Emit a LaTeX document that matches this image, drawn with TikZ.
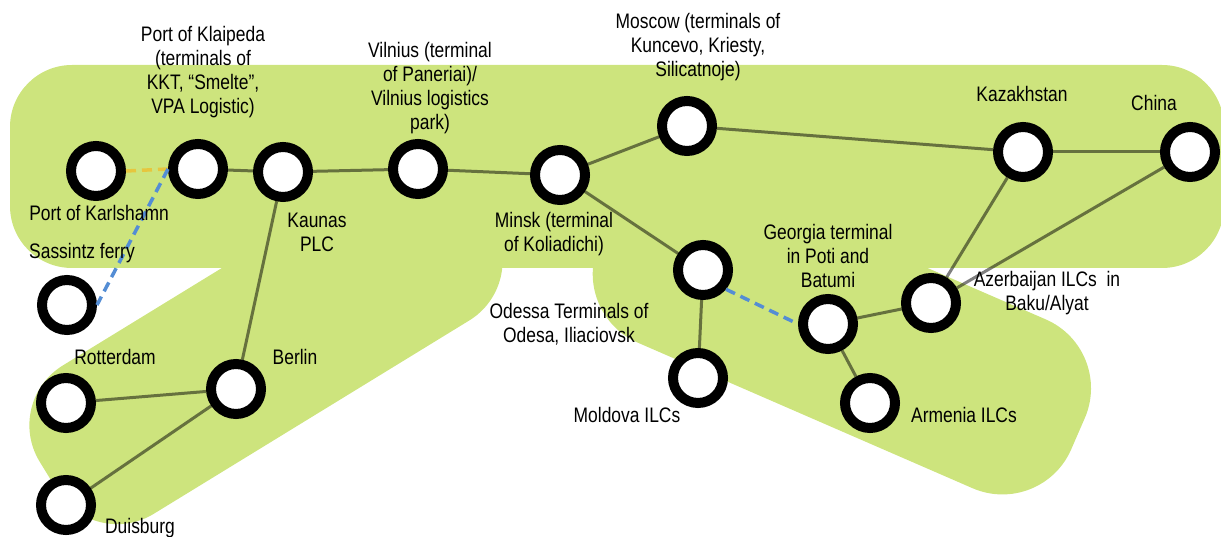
\documentclass[tikz,border=0pt]{standalone}
\usepackage{fontspec}
\setmainfont{Liberation Sans}[FakeStretch=0.83]
\definecolor{bandgreen}{RGB}{205,228,125}
\definecolor{ferryblue}{RGB}{84,141,212}
\definecolor{ferryyellow}{RGB}{230,198,62}
\begin{document}
\begin{tikzpicture}[x=1pt,y=-1pt,
    stop/.style={circle,draw,line width=10pt,fill=white,minimum size=50pt,inner sep=0pt},
    lbl/.style={align=center,inner sep=0pt,font=\fontsize{21}{24}\selectfont},
    link/.style={line width=3pt,draw opacity=0.5},
    ferry/.style={line width=3.5pt,dash pattern=on 10pt off 6pt,draw=#1},
    ferry/.default=ferryblue]

	\useasboundingbox (0,0) rectangle (1221,537);
	\fill[bandgreen,rounded corners=62pt] (10,65) rectangle (1224,268);
	\begin{scope}[shift={(266,343)},rotate=31.5]
	  \fill[bandgreen,rounded corners=70pt] (-255,-87) -- (255,-87)
	  -- (255,87) -- (-255,87) -- cycle;
	\end{scope}
	\begin{scope}[shift={(890,352)},rotate=-23.5]
	  \fill[bandgreen,rounded corners=75pt] (-310,-92) -- (205,-92)
	  -- (205,92) -- (-310,92) -- cycle;
	\end{scope}

	\node[stop] (karl) at (96,171) {}; \node[stop] (klai) at (198,169) {};
	\node[stop] (kaun) at (283,172) {}; \node[stop] (viln) at (418,169) {};
	\node[stop] (mins) at (560,175) {}; \node[stop] (mosc) at (687,126) {};
	\node[stop] (kaza) at (1023,152) {}; \node[stop] (chin) at (1190,152) {};
	\node[stop] (odes) at (703,270) {}; \node[stop] (mold) at (698,378) {};
	\node[stop] (geor) at (828,324) {}; \node[stop] (azer) at (931,303) {};
	\node[stop] (arme) at (870,403) {}; \node[stop] (sass) at (67,305) {};
	\node[stop] (rott) at (66,403) {}; \node[stop] (berl) at (236,389) {};
	\node[stop] (duis) at (66,505) {};

	\draw[link] (klai) -- (kaun); \draw[link] (kaun) -- (viln);
	\draw[link] (viln) -- (mins); \draw[link] (mins) -- (mosc);
	\draw[link] (mosc) -- (kaza); \draw[link] (kaza) -- (chin);
	\draw[link] (mins) -- (odes); \draw[link] (odes) -- (mold);
	\draw[link] (geor) -- (azer); \draw[link] (geor) -- (arme);
	\draw[link] (azer) -- (kaza); \draw[link] (azer) -- (chin);
	\draw[link] (kaun) -- (berl); \draw[link] (berl) -- (rott);
	\draw[link] (berl) -- (duis);
	\draw[ferry=ferryyellow] (karl.east) -- (klai.west);
	\draw[ferry] (klai.west) -- (sass.east);
	\draw[ferry] (odes.-40) -- (geor.west);

	\node[lbl] (lklai) at (203,72) {Port of Klaipeda\\(terminals of\\KKT, “Smelte”,\\VPA Logistic)};
	\node[lbl] (lviln) at (430,88) {Vilnius (terminal\\of Paneriai)/\\Vilnius logistics\\park)};
	\node[lbl] (lkarl) at (99,213) {Port of Karlshamn};
	\node[lbl] (lsass) at (82,253) {Sassintz ferry};
	\node[lbl] (lkaun) at (317,232) {Kaunas\\PLC};
	\node[lbl] (lmins) at (554,234) {Minsk (terminal\\of Koliadichi)};
	\node[lbl] (lmosc) at (698,47) {Moscow (terminals of\\Kuncevo, Kriesty,\\Silicatnoje)};
	\node[lbl] (lkaza) at (1022,94) {Kazakhstan};
	\node[lbl] (lchin) at (1154,103) {China};
	\node[lbl] (lgeor) at (828,256) {Georgia terminal\\in Poti and\\Batumi};
	\node[lbl] (lazer) at (1047,293) {Azerbaijan ILCs\ \ in\\Baku/Alyat};
	\node[lbl] (lodes) at (569,324) {Odessa Terminals of\\Odesa, Iliaciovsk};
	\node[lbl] (lmold) at (627,415) {Moldova ILCs};
	\node[lbl] (larme) at (964,415) {Armenia ILCs};
	\node[lbl] (lrott) at (115,357) {Rotterdam};
	\node[lbl] (lberl) at (295,357) {Berlin};
	\node[lbl] (lduis) at (140,528) {Duisburg};
\end{tikzpicture}
\end{document}
